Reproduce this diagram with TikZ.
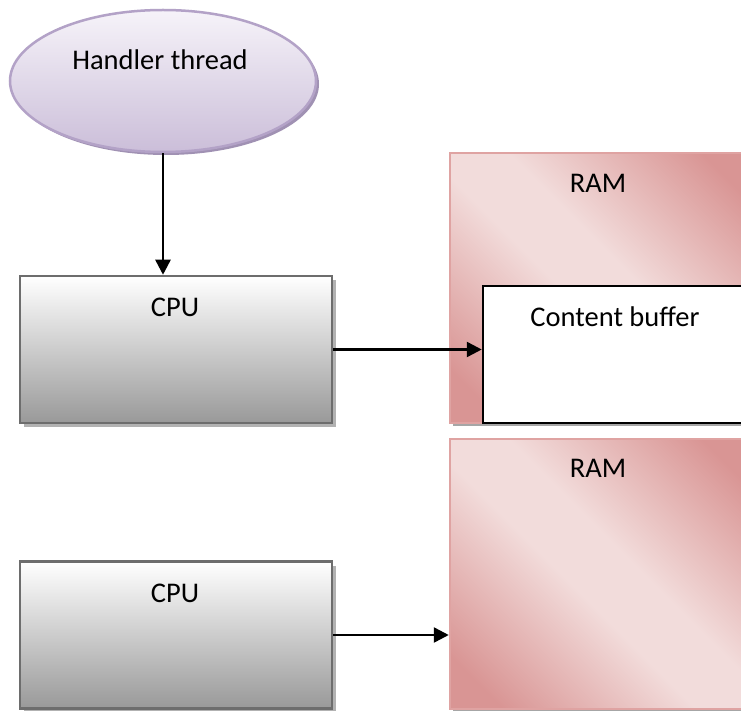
\documentclass[tikz,border=0pt]{standalone}
\usepackage{fontspec}
\setmainfont{Carlito}
\usetikzlibrary{shadows,arrows.meta,shapes.geometric}
\definecolor{ramdark}{HTML}{D99594}
\definecolor{ramlight}{HTML}{F2DCDB}
\definecolor{ramborder}{HTML}{DFA3A2}
\definecolor{elltop}{HTML}{F6F3F9}
\definecolor{ellbot}{HTML}{CBBED9}
\definecolor{ellborder}{HTML}{B3A2C7}
\definecolor{ellshadow}{HTML}{A091B3}
\definecolor{cpuborder}{HTML}{6D6D6D}
\pgfdeclarehorizontalshading{ramshade}{100bp}{color(0bp)=(ramdark); color(21bp)=(ramdark); color(45bp)=(ramlight); color(55bp)=(ramlight); color(79bp)=(ramdark); color(100bp)=(ramdark)}
\begin{document}
\begin{tikzpicture}[x=1pt,y=-1pt,
  txt/.style={inner sep=0pt, font=\fontsize{28.5}{34}\selectfont},
  ellbox/.style={ellipse, inner sep=0pt, minimum width=306pt, minimum height=142pt,
    draw=ellborder, line width=2.5pt, top color=elltop, bottom color=ellbot,
    drop shadow={shadow xshift=3pt, shadow yshift=-3pt, fill=ellshadow, opacity=1}},
  cpubox/.style={rectangle, inner sep=0pt, minimum width=312pt, minimum height=147pt,
    draw=cpuborder, line width=2.5pt, top color=white, bottom color=black!40,
    drop shadow={shadow xshift=4pt, shadow yshift=-4pt, fill=black!30, opacity=1}},
  rambox/.style={rectangle, inner sep=0pt, minimum width=305pt, minimum height=270pt,
    draw=ramborder, line width=2.5pt, shading=ramshade, shading angle=45,
    drop shadow={shadow xshift=3pt, shadow yshift=-3pt, fill=black!35, opacity=1}},
  bufbox/.style={rectangle, inner sep=0pt, minimum width=277pt, minimum height=137pt,
    draw=black, line width=2.5pt, fill=white,
    drop shadow={shadow xshift=3pt, shadow yshift=-3pt, fill=black!35, opacity=1}},
  conn/.style={line width=2.5pt, -{Triangle[length=15pt,width=15pt]}}]
\useasboundingbox (0,0) rectangle (741,711);
\clip (0,0) rectangle (741,711);
\fill[white] (0,0) rectangle (741,711);

\node[ellbox] (ell) at (163,81) {};
\node[txt] (tell) at (160,60) {Handler thread};

\node[cpubox] (cpu1) at (176,349.5) {};
\node[txt] (tcpu1) at (175,307) {CPU};

\node[cpubox] (cpu2) at (176,635) {};
\node[txt] (tcpu2) at (175,593) {CPU};

\node[rambox] (ram1) at (602.5,288) {};
\node[txt] (tram1) at (598,183) {RAM};

\node[bufbox] (buf) at (621.5,354.5) {};
\node[txt] (tbuf) at (615,317) {Content buffer};

\node[rambox] (ram2) at (602.5,574) {};
\node[txt] (tram2) at (598,468) {RAM};

\draw[conn] (ell.south) -- (ell.south |- cpu1.north);
\draw[conn] (cpu1.east) -- (cpu1.east -| buf.west);
\draw[conn] (cpu2.east) -- (cpu2.east -| ram2.west);
\end{tikzpicture}
\end{document}
